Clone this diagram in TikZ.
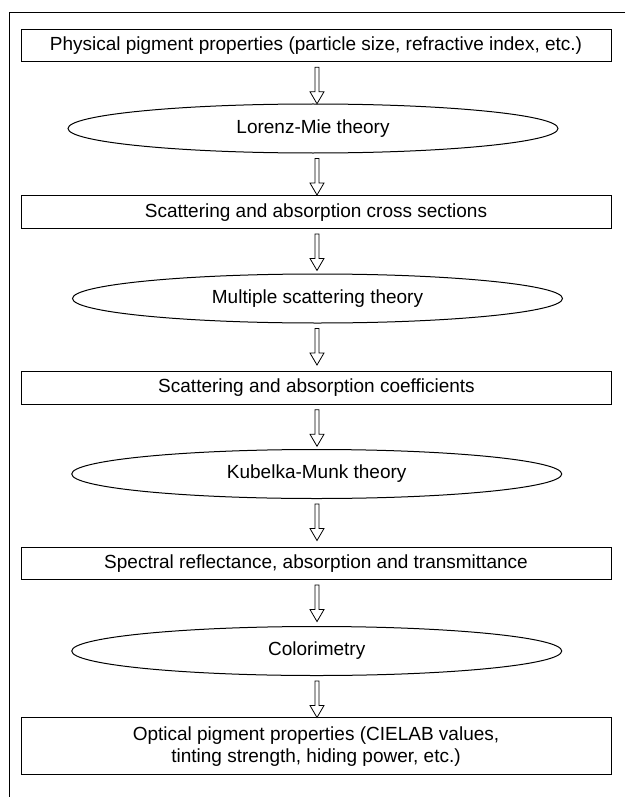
\documentclass[tikz,border=0pt]{standalone}
\usepackage{fontspec}
\setmainfont{Liberation Sans}
\usetikzlibrary{shapes.geometric,calc}
\tikzset{
  boxnode/.style={draw, line width=1pt, minimum width=590pt, minimum height=32.5pt,
    inner sep=0pt, font=\fontsize{19}{22}\selectfont, align=center},
  ellnode/.style={draw, ellipse, line width=1pt, minimum width=490pt, minimum height=49pt,
    inner sep=0pt, font=\fontsize{19}{22}\selectfont},
  arrowline/.style={draw, line width=0.8pt, fill=white, line join=miter},
  frameline/.style={line width=1.4pt, line join=miter}
}
\newcommand{\flowarrow}[2]{%
  \path let \p1=($(#1.south -| axis)+(0,-5pt)$) in
    [arrowline] (\x1-2pt,\y1) -- (\x1-2pt,\y1-24.5pt) -- (\x1-7pt,\y1-24.5pt)
    -- (\x1,\y1-36.5pt) -- (\x1+7pt,\y1-24.5pt) -- (\x1+2pt,\y1-24.5pt)
    -- (\x1+2pt,\y1) -- cycle;}
\begin{document}
\begin{tikzpicture}[x=1pt,y=-1pt]
  \useasboundingbox (0,0) rectangle (625,797);
  \draw[frameline] (625,12.7) -- (9.3,12.7) -- (9.3,797);
  \coordinate (axis) at (317,0);

  \node[boxnode] (b1) at (316,45.5) {Physical pigment properties (particle size, refractive index, etc.)};
  \node[ellnode] (e1) at (313,128.5) {Lorenz-Mie theory};
  \node[boxnode] (b2) at (316,212.2) {Scattering and absorption cross sections};
  \node[ellnode] (e2) at (317.5,298.5) {Multiple scattering theory};
  \node[boxnode] (b3) at (316.5,388) {Scattering and absorption coefficients};
  \node[ellnode] (e3) at (316.7,474) {Kubelka-Munk theory};
  \node[boxnode] (b4) at (316,563.3) {Spectral reflectance, absorption and transmittance};
  \node[ellnode] (e4) at (316.7,651) {Colorimetry};
  \node[boxnode, minimum height=57.5pt] (b5) at (316,746.2) {Optical pigment properties (CIELAB values,\\tinting strength, hiding power, etc.)};

  \flowarrow{b1}{e1}
  \flowarrow{e1}{b2}
  \flowarrow{b2}{e2}
  \flowarrow{e2}{b3}
  \flowarrow{b3}{e3}
  \flowarrow{e3}{b4}
  \flowarrow{b4}{e4}
  \flowarrow{e4}{b5}
\end{tikzpicture}
\end{document}
